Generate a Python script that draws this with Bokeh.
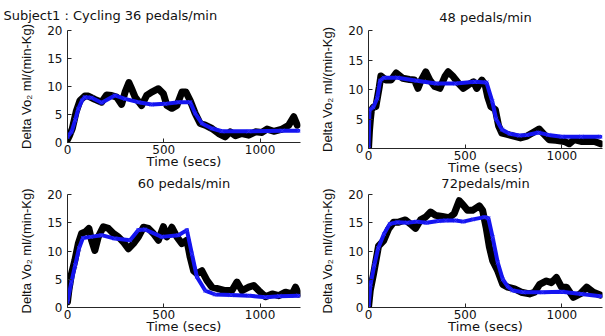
from bokeh.plotting import figure
from bokeh.layouts import gridplot
from bokeh.models import Range1d, FixedTicker, Title
from bokeh.embed import file_html
from bokeh.resources import INLINE

# ---------------- data ----------------
titles = ["Subject1 : Cycling 36 pedals/min", "48 pedals/min", "60 pedals/min", "72pedals/min"]
x_ticks = [0, 500, 1000]
y_ticks = [0, 5, 10, 15, 20]
x_label = "Time (secs)"
y_label = "Delta Vo\u2082 ml/(min-Kg)"

# Panel 1: 36 pedals/min
t1_meas = [0, 10, 25, 45, 65, 90, 108, 142, 177, 203, 229, 255, 281, 299, 319, 333, 351, 385, 411,
           437, 472, 498, 516, 542, 568, 594, 615, 637, 663, 689, 715, 750, 785, 819, 845, 872, 906,
           941, 976, 1010, 1036, 1071, 1115, 1149, 1175, 1193]
v1_meas = [0.5, 1.2, 2.5, 5.5, 7.5, 8.3, 8.3, 7.7, 7.2, 8.5, 8.4, 8.1, 6.8, 9.0, 10.7, 9.6, 8.1, 6.6,
           8.4, 9.0, 9.6, 8.7, 6.6, 6.1, 6.6, 9.0, 9.0, 7.5, 5.2, 3.4, 3.1, 2.5, 1.6, 1.0, 1.9, 1.2,
           1.6, 1.3, 1.9, 1.8, 2.4, 2.0, 2.4, 3.1, 4.6, 3.1]
t1_model = [0, 21, 40, 56, 75, 90, 125, 177, 246, 299, 368, 437, 507, 576, 637, 663, 698, 750, 802,
            941, 1115, 1200]
v1_model = [1.0, 1.9, 4.0, 6.0, 7.5, 8.1, 8.0, 7.1, 8.4, 7.8, 7.2, 6.8, 6.9, 7.2, 7.2, 5.2, 3.4,
            2.5, 2.0, 2.0, 2.1, 2.1]

# Panel 2: 48 pedals/min
t2_meas = [0, 5, 10, 15, 25, 38, 56, 64, 90, 117, 143, 177, 212, 238, 256, 273, 296, 317, 343, 369,
           395, 412, 438, 464, 490, 517, 543, 560, 586, 603, 616, 633, 656, 673, 690, 717, 751, 786,
           820, 856, 882, 908, 934, 969, 1012, 1038, 1064, 1099, 1134, 1169, 1200]
v2_meas = [0.0, 3.0, 5.0, 6.5, 7.0, 7.1, 10.5, 12.3, 11.6, 11.6, 12.8, 11.9, 11.7, 11.6, 10.2, 11.6,
           13.0, 11.6, 10.5, 10.2, 12.2, 13.0, 12.2, 11.1, 10.2, 10.8, 11.3, 10.2, 11.6, 10.8, 8.8,
           7.1, 6.6, 3.8, 2.6, 2.4, 2.1, 1.8, 2.1, 2.8, 3.3, 2.4, 1.5, 1.4, 1.2, 0.8, 1.5, 1.2, 1.2,
           1.2, 0.8]
t2_model = [0, 5, 25, 45, 60, 80, 150, 250, 350, 450, 550, 610, 640, 660, 690, 730, 780, 820, 880,
            930, 1000, 1100, 1200]
v2_model = [0.0, 6.5, 7.0, 8.5, 11.5, 12.0, 12.0, 11.5, 11.0, 11.0, 11.3, 11.2, 8.0, 5.0, 3.2, 2.5,
            2.2, 2.3, 2.7, 2.3, 2.0, 2.0, 2.0]

# Panel 3: 60 pedals/min
t3_meas = [0, 7, 21, 38, 56, 73, 94, 111, 125, 142, 160, 186, 212, 238, 264, 290, 316, 342, 368,
           394, 420, 446, 472, 498, 516, 542, 568, 594, 620, 637, 655, 672, 698, 724, 750, 785, 819,
           854, 880, 906, 941, 967, 993, 1028, 1063, 1097, 1132, 1167, 1184, 1200]
v3_meas = [1.0, 3.0, 6.0, 8.3, 11.3, 13.1, 13.4, 14.0, 11.9, 10.1, 12.5, 14.3, 14.0, 13.1, 12.5,
           11.6, 10.4, 11.3, 12.5, 14.2, 14.0, 13.1, 11.9, 14.3, 12.5, 14.2, 12.5, 11.3, 11.9, 8.9,
           6.5, 6.0, 6.5, 4.8, 3.6, 3.3, 3.0, 3.0, 4.5, 3.0, 3.6, 3.9, 3.0, 1.9, 2.4, 2.1, 2.7, 2.4,
           3.6, 2.4]
t3_model = [0, 20, 40, 60, 80, 120, 177, 246, 325, 368, 403, 489, 576, 620, 646, 672, 715, 767, 850,
            941, 1028, 1100, 1200]
v3_model = [1.0, 4.5, 7.5, 10.5, 12.3, 12.5, 12.8, 12.2, 11.9, 13.7, 13.8, 12.5, 12.8, 13.7, 9.5,
            5.4, 3.0, 2.3, 2.2, 2.1, 1.8, 2.0, 2.1]

# Panel 4: 72 pedals/min
t4_meas = [0, 9, 26, 52, 78, 104, 130, 156, 191, 217, 243, 269, 295, 321, 347, 382, 416, 443, 469,
           486, 512, 538, 573, 590, 608, 625, 642, 668, 694, 720, 755, 790, 833, 859, 885, 920, 946,
           972, 998, 1024, 1059, 1094, 1128, 1163, 1198]
v4_meas = [0.0, 3.0, 5.9, 10.9, 11.8, 13.9, 15.1, 15.1, 15.5, 14.8, 14.0, 15.5, 16.0, 16.9, 16.3,
           16.1, 15.9, 16.6, 18.9, 18.3, 17.2, 17.2, 18.0, 17.2, 14.2, 10.7, 8.3, 6.5, 4.1, 3.6, 3.3,
           2.7, 2.4, 2.7, 4.1, 4.7, 4.4, 5.3, 3.6, 3.6, 1.8, 2.4, 3.6, 2.7, 2.2]
t4_model = [0, 10, 30, 50, 80, 110, 150, 200, 250, 300, 360, 400, 450, 490, 540, 600, 620, 642, 668,
            694, 720, 746, 800, 900, 1000, 1100, 1200]
v4_model = [0.0, 4.0, 7.5, 10.5, 13.0, 14.8, 15.1, 15.0, 15.2, 15.0, 15.3, 15.4, 15.4, 15.2, 15.6,
            16.0, 15.8, 12.4, 8.0, 5.0, 3.7, 3.0, 2.7, 2.7, 2.8, 2.4, 2.0]

panels = [
    (t1_meas, v1_meas, t1_model, v1_model),
    (t2_meas, v2_meas, t2_model, v2_model),
    (t3_meas, v3_meas, t3_model, v3_model),
    (t4_meas, v4_meas, t4_model, v4_model),
]

FONT = "DejaVu Sans"
AX_COLOR = "#262626"

# per-panel geometry:
# (frame_w, frame_h, border_left, border_right, border_top, border_bottom, title_standoff)
geom = [
    (233, 112, 67, 2, 30, 29, 12),
    (234, 118, 66, 3, 26, 29, 7),
    (233, 113, 67, 2, 21, 29, 4),
    (234, 113, 66, 3, 21, 29, 4),
]


def make_panel(i):
    tm, vm, tf, vf = panels[i]
    fw, fh, bl, br, bt, bb, so = geom[i]
    p = figure(
        frame_width=fw, frame_height=fh,
        min_border_left=bl, min_border_right=br,
        min_border_top=bt, min_border_bottom=bb,
        x_range=Range1d(0, 1210),
        y_range=Range1d(0, 20),
        output_backend="svg",
        toolbar_location=None,
        title=None,
    )
    t = Title(text=titles[i], align="left" if i == 0 else "center",
              offset=-64 if i == 0 else 0, standoff=so, vertical_align="top",
              text_font=FONT, text_font_size="13px", text_font_style="normal",
              text_color="#111111")
    p.add_layout(t, "above")

    p.outline_line_color = None
    p.grid.visible = False
    p.background_fill_color = "white"
    p.border_fill_color = "white"

    for ax in (p.xaxis[0], p.yaxis[0]):
        ax.axis_line_color = AX_COLOR
        ax.axis_line_width = 1
        ax.major_tick_line_color = AX_COLOR
        ax.major_tick_in = 4
        ax.major_tick_out = 0
        ax.minor_tick_line_color = None
        ax.major_label_text_font = FONT
        ax.major_label_text_font_size = "12px"
        ax.major_label_text_color = "#111111"
        ax.axis_label_text_font_style = "normal"
        ax.axis_label_text_color = "#111111"

    p.xaxis.ticker = FixedTicker(ticks=x_ticks)
    p.yaxis.ticker = FixedTicker(ticks=y_ticks)
    p.xaxis.axis_label = x_label
    p.xaxis.axis_label_text_font = FONT
    p.xaxis.axis_label_text_font_size = "13px"
    p.xaxis.major_label_standoff = 2
    p.xaxis.axis_label_standoff = -3
    p.yaxis.axis_label = y_label
    p.yaxis.axis_label_text_font = "Liberation Sans"
    p.yaxis.axis_label_text_font_size = "13px"
    p.yaxis.major_label_standoff = 5
    p.yaxis.axis_label_standoff = 10

    # measured data: thick black beaded line
    p.line(tm, vm, line_color="black", line_width=7, line_join="round", line_cap="round")
    # model fit: blue line with x markers
    p.line(tf, vf, line_color="#1414f0", line_width=4, line_join="round", line_cap="round")
    p.scatter(tf, vf, marker="x", size=6, line_color="#3a3aff", line_alpha=0.6, line_width=1)
    return p


figs = [make_panel(i) for i in range(4)]
grid = gridplot([[figs[0], figs[1]], [figs[2], figs[3]]], toolbar_location=None)

open("out.html", "w").write(file_html(grid, INLINE))
